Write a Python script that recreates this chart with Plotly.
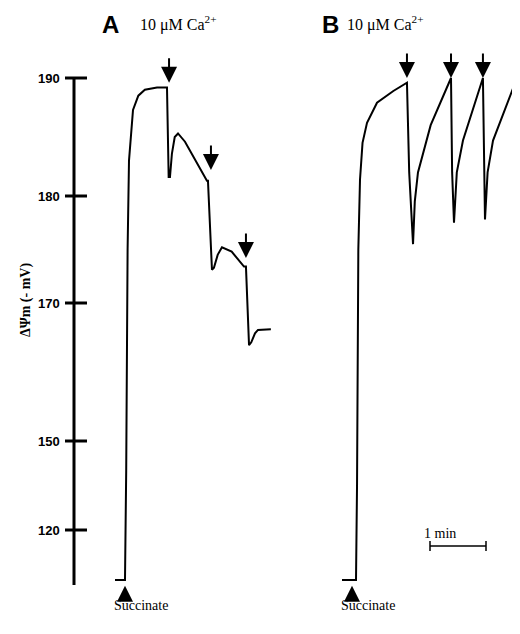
import numpy as np
import plotly.graph_objects as go

# panel A: time (s) and membrane potential (-mV)
t_a = [0, 10.7, 12, 13.5, 15, 19.3, 25, 32, 45, 55.7, 57.5, 58.9, 61, 64, 67.5, 75, 98.5, 99.6,
       103.9, 106, 110, 114.6, 125, 138.2, 140.3, 143.6, 146, 150, 153.2, 160, 167]
v_a = [103.2, 103.2, 140, 175, 183, 187.3, 188.5, 189, 189.2, 189.2, 181.6, 181.6, 183.6, 185.0, 185.3,
       184.6, 181.3, 181.3, 173.1, 173.3, 174.5, 175.2, 174.8, 173.4, 173.4, 163.9, 164.3, 165.6, 166.1, 166.2, 166.2]
arrows_a = [(57.9, 189.6), (102.8, 182.2), (140.3, 174.2)]

# panel B
t_b = [0, 13.9, 15, 16.1, 17.5, 19.3, 22, 26.8, 37.5, 55, 69.6, 72, 76.1, 78, 81.4, 95, 116.8, 118, 120,
       123, 129.6, 151, 152, 153.2, 156, 161.8, 187.5]
v_b = [103.2, 103.2, 103.2, 135, 175, 181.4, 184.5, 186.2, 187.9, 188.9, 189.6, 182, 175.5, 179.5, 182, 186, 190,
       182, 177.5, 182, 184.7, 190.1, 183, 177.8, 182, 184.7, 191.3]
arrows_b = [(69.6, 191.6), (116.8, 191.6), (151, 191.6)]

tick_mv = [190, 180, 170, 150, 120]
tick_px = [78, 196, 303, 441, 530]

PX_PER_S = 56 / 60
A0, B0 = 115, 342
OFF = 8  # page body margin
W, H = 520 - OFF, 634 - OFF


def pos(mv):
    mv = np.asarray(mv, dtype=float)
    xs = [0] + tick_mv[::-1]
    ys = [530 + 120 * 2.97] + tick_px[::-1]
    return np.interp(mv, xs, ys)


def px(p):
    return (p - OFF) / W


fig = go.Figure()
fig.add_trace(go.Scatter(x=t_a, y=pos(v_a), mode="lines", line=dict(color="black", width=2),
                         xaxis="x", yaxis="y"))
fig.add_trace(go.Scatter(x=t_b, y=pos(v_b), mode="lines", line=dict(color="black", width=2),
                         xaxis="x2", yaxis="y"))

arrow = dict(showarrow=True, arrowhead=2, arrowsize=1.6, arrowwidth=2, arrowcolor="black", text="", ax=0)
ann = []
for t, v in arrows_a:
    ann.append(dict(x=t, y=pos(v), xref="x", yref="y", ay=-26, **arrow))
for t, v in arrows_b:
    ann.append(dict(x=t, y=pos(v), xref="x2", yref="y", ay=-26, **arrow))
for ref in ["x", "x2"]:
    ann.append(dict(x=10.7, y=pos(101.2), xref=ref, yref="y", ay=14, **arrow))
    ann.append(dict(x=-3, y=605, xref=ref, yref="y", text="Succinate", showarrow=False,
                    xanchor="left", font=dict(family="Liberation Serif", size=14, color="black")))

serif = dict(family="Liberation Serif", size=16, color="black")
ann += [
    dict(x=px(100), y=24, xref="paper", yref="y", text="<b>A</b>", showarrow=False,
         xanchor="left", font=dict(family="Liberation Sans", size=24, color="black")),
    dict(x=px(138), y=23, xref="paper", yref="y", text="10 μM Ca<sup>2+</sup>", showarrow=False,
         xanchor="left", font=serif),
    dict(x=px(320), y=24, xref="paper", yref="y", text="<b>B</b>", showarrow=False,
         xanchor="left", font=dict(family="Liberation Sans", size=24, color="black")),
    dict(x=px(345), y=23, xref="paper", yref="y", text="10 μM Ca<sup>2+</sup>", showarrow=False,
         xanchor="left", font=serif),
    dict(x=px(458), y=533, xref="paper", yref="y", text="1 min", showarrow=False,
         font=dict(family="Liberation Serif", size=14, color="black")),
    dict(x=px(16), y=300, xref="paper", yref="y", text="<b>ΔΨm (- mV)</b>", showarrow=False,
         textangle=-90, font=dict(family="Liberation Serif", size=14, color="black")),
]
for mv, p in zip(tick_mv, tick_px):
    ann.append(dict(x=px(62), y=p, xref="paper", yref="y", text=f"<b>{mv}</b>", showarrow=False,
                    xanchor="right", font=dict(family="Liberation Sans", size=13, color="black")))

shapes = [dict(type="line", xref="x", yref="y", x0=(74 - A0) / PX_PER_S, x1=(74 - A0) / PX_PER_S,
               y0=tick_px[0], y1=585, line=dict(color="black", width=3))]
for p in tick_px:
    shapes.append(dict(type="line", xref="x", yref="y", x0=(65 - A0) / PX_PER_S, x1=(87 - A0) / PX_PER_S,
                       y0=p, y1=p, line=dict(color="black", width=3)))
# 1 min scale bar
bar0 = (430 - B0) / PX_PER_S
shapes.append(dict(type="line", xref="x2", yref="y", x0=bar0, x1=bar0 + 60,
                   y0=546, y1=546, line=dict(color="black", width=1.5)))
for x0 in [bar0, bar0 + 60]:
    shapes.append(dict(type="line", xref="x2", yref="y", x0=x0, x1=x0, y0=541, y1=551,
                       line=dict(color="black", width=1.5)))

ax_common = dict(visible=False, domain=[0, 1], fixedrange=True)
fig.update_layout(
    width=W, height=H, margin=dict(l=0, r=0, t=0, b=0),
    paper_bgcolor="white", plot_bgcolor="white", showlegend=False,
    xaxis=dict(range=[(OFF - A0) / PX_PER_S, (520 - A0) / PX_PER_S], **ax_common),
    xaxis2=dict(range=[(OFF - B0) / PX_PER_S, (520 - B0) / PX_PER_S], overlaying="x", **ax_common),
    yaxis=dict(range=[634, OFF], visible=False, fixedrange=True),
    annotations=ann, shapes=shapes,
)
fig.write_html("out.html")
